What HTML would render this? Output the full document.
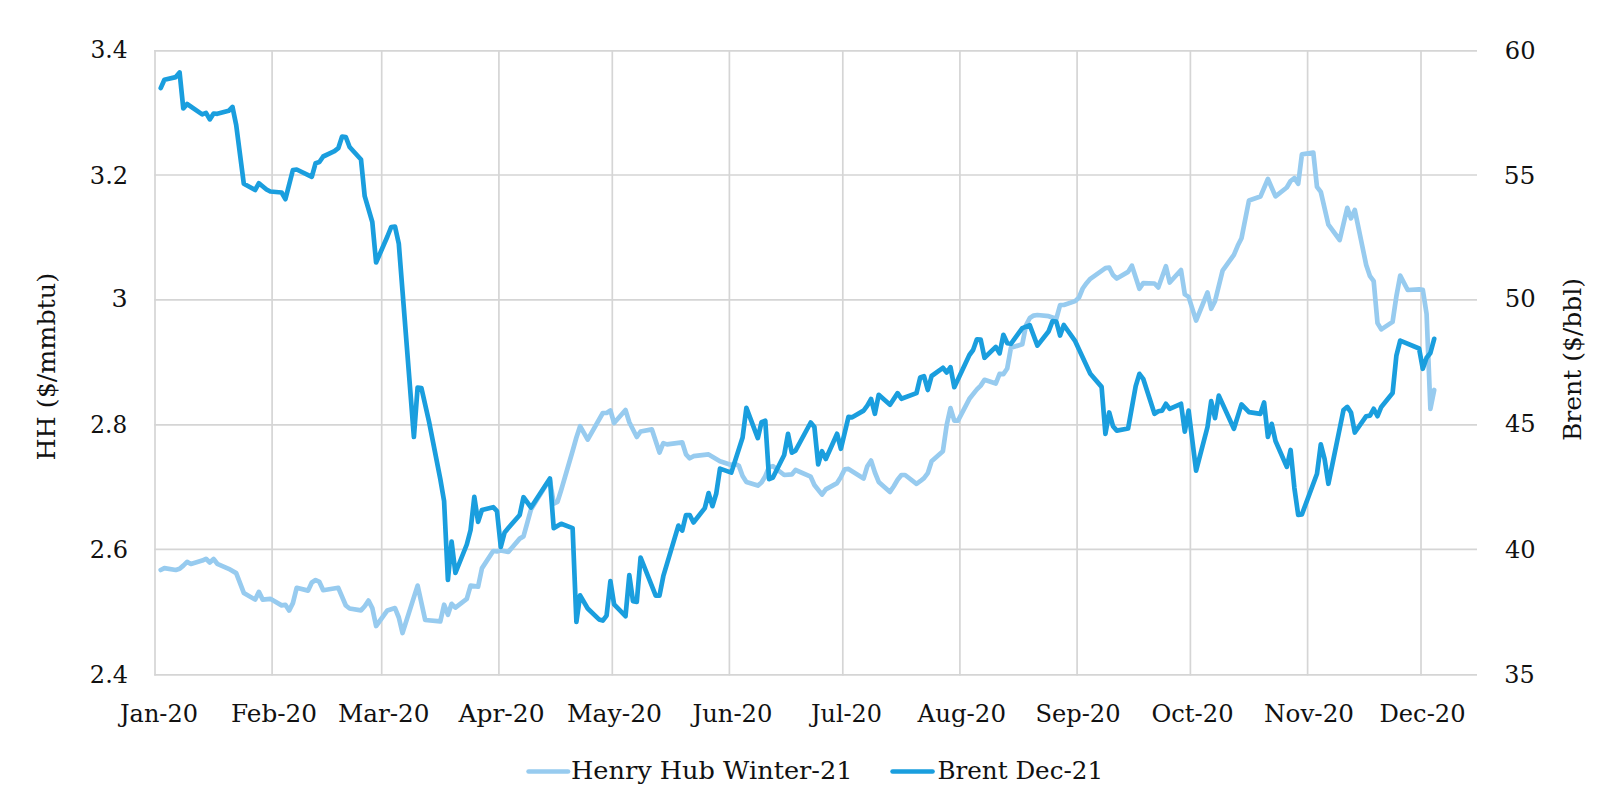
<!DOCTYPE html>
<html lang="en"><head><meta charset="utf-8"><title>Henry Hub Winter-21 vs Brent Dec-21</title>
<style>
html,body{margin:0;padding:0;background:#fff;}
body{width:1622px;height:808px;overflow:hidden;}
svg{display:block;}
text{font-family:"DejaVu Serif", "Liberation Serif", serif;font-size:24.6px;fill:#111;}
</style></head><body>
<svg width="1622" height="808" viewBox="0 0 1622 808">
<rect width="1622" height="808" fill="#ffffff"/>
<g stroke="#d5d5d5" stroke-width="1.7" fill="none" stroke-linecap="butt">
<line x1="154.2" y1="50.8" x2="1477" y2="50.8"/>
<line x1="154.2" y1="175.0" x2="1477" y2="175.0"/>
<line x1="154.2" y1="299.8" x2="1477" y2="299.8"/>
<line x1="154.2" y1="424.8" x2="1477" y2="424.8"/>
<line x1="154.2" y1="549.4" x2="1477" y2="549.4"/>
<line x1="154.2" y1="674.8" x2="1477" y2="674.8"/>
<line x1="155.0" y1="50" x2="155.0" y2="675.6"/>
<line x1="272.1" y1="50" x2="272.1" y2="675.6"/>
<line x1="381.7" y1="50" x2="381.7" y2="675.6"/>
<line x1="498.9" y1="50" x2="498.9" y2="675.6"/>
<line x1="612.3" y1="50" x2="612.3" y2="675.6"/>
<line x1="729.4" y1="50" x2="729.4" y2="675.6"/>
<line x1="842.8" y1="50" x2="842.8" y2="675.6"/>
<line x1="959.9" y1="50" x2="959.9" y2="675.6"/>
<line x1="1077.1" y1="50" x2="1077.1" y2="675.6"/>
<line x1="1190.4" y1="50" x2="1190.4" y2="675.6"/>
<line x1="1307.6" y1="50" x2="1307.6" y2="675.6"/>
<line x1="1421.0" y1="50" x2="1421.0" y2="675.6"/>
</g>
<polyline fill="none" stroke="#97cbef" stroke-width="4.7" stroke-linejoin="round" stroke-linecap="round" points="160.7,570.0 164.4,568.1 175.8,570.0 179.6,568.8 183.3,565.6 187.1,561.9 190.9,564.0 202.2,560.6 206.0,558.8 209.8,562.5 213.6,559.0 217.3,563.8 228.7,568.8 236.2,573.1 243.8,592.9 255.1,599.6 258.9,591.9 262.7,599.6 270.3,598.8 281.6,605.4 285.4,604.8 289.1,610.6 292.9,603.1 296.7,587.8 308.1,590.6 311.8,582.5 315.6,580.0 319.4,581.9 323.2,590.2 338.3,587.8 345.8,605.5 349.6,608.5 361.0,610.4 364.7,606.2 368.5,600.6 372.3,608.1 376.1,626.0 387.4,610.4 395.0,608.1 398.8,617.5 402.5,633.0 417.6,585.6 425.2,620.0 440.3,621.4 444.1,604.7 447.9,614.7 451.6,603.8 455.4,607.6 466.8,598.8 470.6,585.6 478.1,586.7 481.9,568.4 493.2,551.0 497.0,551.4 500.8,550.5 508.3,551.9 519.7,538.6 523.5,536.4 531.0,509.4 546.1,485.0 549.9,479.8 553.7,503.6 557.5,501.8 561.2,490.0 572.6,451.0 576.4,437.5 580.1,426.2 587.7,439.6 602.8,413.0 606.6,413.0 610.4,410.5 614.1,423.0 625.5,410.0 629.3,422.2 636.8,437.0 640.6,431.5 651.9,429.4 659.5,452.5 663.3,443.1 667.0,444.4 682.2,442.3 686.0,454.4 689.7,458.3 693.5,456.2 708.6,454.4 720.0,461.2 731.3,465.0 735.1,463.8 738.9,465.9 742.6,476.0 746.4,481.9 757.8,485.6 761.5,482.5 765.3,476.2 769.1,467.0 772.9,466.2 784.2,475.0 791.8,474.4 795.5,470.0 810.7,476.7 814.4,485.0 822.0,494.6 825.8,489.4 837.1,483.1 840.9,476.9 844.7,469.4 848.5,468.9 863.6,478.5 867.3,466.2 871.1,460.6 874.9,472.5 878.7,481.9 890.0,491.9 893.8,486.2 897.6,479.8 901.4,475.0 905.1,475.0 916.5,483.8 920.2,481.2 924.0,478.1 927.8,473.1 931.6,461.2 942.9,451.2 946.7,425.0 950.5,408.1 954.3,420.6 958.0,420.6 969.4,398.8 976.9,389.4 980.7,385.6 984.5,379.8 995.8,383.5 999.6,373.9 1003.4,374.1 1007.2,368.5 1010.9,347.8 1022.3,344.2 1026.1,325.0 1029.8,318.0 1033.6,315.6 1037.4,315.0 1048.7,316.2 1056.3,318.8 1060.1,305.0 1063.8,305.0 1075.2,301.1 1079.0,297.5 1082.7,288.5 1086.5,283.2 1090.3,278.8 1105.4,268.1 1109.2,267.5 1113.0,275.0 1116.8,278.5 1128.1,271.9 1131.9,265.6 1139.4,288.8 1143.2,283.1 1154.5,283.5 1158.3,287.5 1165.9,266.2 1169.7,282.5 1181.0,270.0 1184.8,294.4 1188.6,296.9 1196.1,320.6 1207.5,292.5 1211.2,308.8 1215.0,301.2 1222.6,270.6 1233.9,254.8 1237.7,245.8 1241.5,238.3 1249.0,200.4 1260.4,196.6 1267.9,179.0 1275.5,196.4 1286.8,187.5 1290.6,181.0 1294.4,178.1 1298.2,183.8 1301.9,154.4 1313.3,152.5 1317.0,186.9 1320.8,191.9 1328.4,224.7 1339.7,240.0 1347.3,207.8 1351.0,218.4 1354.8,210.0 1366.2,265.0 1370.0,276.2 1373.7,281.2 1377.5,323.1 1381.3,329.4 1392.6,321.9 1396.4,296.2 1400.2,275.6 1407.7,290.0 1419.1,289.4 1422.8,289.8 1426.6,314.0 1430.4,408.8 1434.2,390.0"/>
<polyline fill="none" stroke="#1a9ede" stroke-width="4.7" stroke-linejoin="round" stroke-linecap="round" points="160.7,88.1 164.4,79.8 175.8,77.1 179.6,72.4 183.3,108.5 187.1,104.0 202.2,114.4 206.0,112.9 209.8,119.4 213.6,113.5 217.3,113.8 228.7,110.8 232.5,107.0 236.2,125.0 243.8,183.8 255.1,190.0 258.9,183.2 266.5,189.5 270.3,191.5 281.6,192.5 285.4,199.2 292.9,170.0 296.7,169.5 311.8,176.8 315.6,163.2 319.4,162.0 323.2,156.5 334.5,151.2 338.3,148.2 342.1,136.5 345.8,137.0 349.6,147.0 361.0,159.5 364.7,196.2 372.3,222.0 376.1,262.5 387.4,236.5 391.2,227.0 395.0,226.6 398.8,243.8 402.5,291.0 413.9,437.0 417.6,387.5 421.4,388.0 429.0,421.5 440.3,479.0 444.1,501.2 447.9,580.0 451.6,541.6 455.4,573.0 466.8,544.5 470.6,530.0 474.3,496.9 478.1,521.9 481.9,510.0 493.2,507.2 497.0,511.2 500.8,547.0 504.6,532.5 508.3,528.1 519.7,515.0 523.5,497.2 531.0,507.5 549.9,478.5 553.7,528.1 561.2,523.8 572.6,528.1 576.4,621.9 580.1,595.3 587.7,608.5 599.0,619.4 602.8,620.6 606.6,615.6 610.4,581.2 614.1,604.4 625.5,616.2 629.3,575.2 633.0,601.2 636.8,601.9 640.6,557.5 655.7,595.6 659.5,595.6 663.3,576.2 678.4,525.6 682.2,530.6 686.0,515.0 689.7,515.0 693.5,522.5 704.8,508.1 708.6,493.1 712.4,506.2 716.2,493.8 720.0,468.6 731.3,472.6 742.6,437.5 746.4,407.9 757.8,438.1 761.5,422.3 765.3,420.8 769.1,479.2 772.9,477.5 784.2,455.0 788.0,433.8 791.8,452.6 795.5,450.6 810.7,422.5 814.4,426.9 818.2,464.4 822.0,451.2 825.8,459.0 837.1,433.8 840.9,448.8 848.5,416.9 852.2,417.3 863.6,410.6 867.3,405.6 871.1,399.0 874.9,413.8 878.7,394.8 890.0,404.8 897.6,393.1 901.4,398.8 916.5,393.1 920.2,377.5 924.0,376.2 927.8,390.0 931.6,376.0 942.9,367.8 946.7,372.5 950.5,367.2 954.3,387.2 969.4,355.0 973.1,350.0 976.9,339.3 980.7,339.7 984.5,357.8 995.8,346.9 999.6,353.4 1003.4,334.8 1007.2,343.1 1010.9,343.8 1022.3,328.1 1029.8,325.2 1037.4,345.6 1048.7,331.2 1052.5,321.2 1056.3,321.5 1060.1,335.6 1063.8,325.0 1075.2,341.2 1090.3,373.8 1101.6,386.9 1105.4,433.8 1109.2,412.5 1113.0,426.2 1116.8,430.6 1128.1,428.5 1135.7,386.2 1139.4,373.8 1143.2,378.8 1154.5,413.8 1158.3,411.2 1162.1,410.6 1165.9,403.8 1169.7,408.8 1181.0,403.8 1184.8,431.7 1188.6,410.6 1196.1,470.6 1207.5,427.0 1211.2,401.2 1215.0,418.1 1218.8,395.6 1233.9,428.8 1241.5,404.4 1249.0,412.2 1260.4,413.8 1264.1,402.5 1267.9,436.9 1271.7,423.8 1275.5,441.0 1286.8,466.9 1290.6,450.0 1294.4,488.1 1298.2,515.0 1301.9,514.4 1317.0,473.8 1320.8,444.4 1324.6,459.0 1328.4,483.8 1343.5,410.0 1347.3,406.9 1351.0,412.5 1354.8,432.5 1366.2,416.2 1370.0,415.6 1373.7,408.8 1377.5,416.2 1381.3,406.9 1392.6,393.1 1396.4,355.6 1400.2,340.6 1419.1,348.5 1422.8,368.8 1426.6,357.8 1430.4,353.0 1434.2,338.8"/>
<line x1="528.6" y1="771.5" x2="568" y2="771.5" stroke="#97cbef" stroke-width="4.7" stroke-linecap="round"/>
<line x1="892.6" y1="771.5" x2="932.5" y2="771.5" stroke="#1a9ede" stroke-width="4.7" stroke-linecap="round"/>
<text x="90.39" y="58.4" textLength="37.16" lengthAdjust="spacingAndGlyphs">3.4</text>
<text x="89.83" y="183.7" textLength="38.40" lengthAdjust="spacingAndGlyphs">3.2</text>
<text x="111.42" y="306.9" textLength="16.15" lengthAdjust="spacingAndGlyphs">3</text>
<text x="90.36" y="432.9" textLength="36.77" lengthAdjust="spacingAndGlyphs">2.8</text>
<text x="89.83" y="557.5" textLength="38.28" lengthAdjust="spacingAndGlyphs">2.6</text>
<text x="89.86" y="682.8" textLength="38.20" lengthAdjust="spacingAndGlyphs">2.4</text>
<text x="1504.87" y="58.7" textLength="30.76" lengthAdjust="spacingAndGlyphs">60</text>
<text x="1503.67" y="183.8" textLength="31.71" lengthAdjust="spacingAndGlyphs">55</text>
<text x="1504.78" y="307.4" textLength="30.95" lengthAdjust="spacingAndGlyphs">50</text>
<text x="1504.90" y="431.8" textLength="30.80" lengthAdjust="spacingAndGlyphs">45</text>
<text x="1504.95" y="557.5" textLength="30.71" lengthAdjust="spacingAndGlyphs">40</text>
<text x="1504.25" y="682.8" textLength="30.43" lengthAdjust="spacingAndGlyphs">35</text>
<text x="119.96" y="721.5" textLength="78.02" lengthAdjust="spacingAndGlyphs">Jan-20</text>
<text x="230.94" y="721.5" textLength="86.12" lengthAdjust="spacingAndGlyphs">Feb-20</text>
<text x="337.96" y="721.5" textLength="91.57" lengthAdjust="spacingAndGlyphs">Mar-20</text>
<text x="458.49" y="721.5" textLength="86.04" lengthAdjust="spacingAndGlyphs">Apr-20</text>
<text x="566.96" y="721.5" textLength="95.07" lengthAdjust="spacingAndGlyphs">May-20</text>
<text x="692.47" y="721.5" textLength="80.02" lengthAdjust="spacingAndGlyphs">Jun-20</text>
<text x="810.97" y="721.5" textLength="71.02" lengthAdjust="spacingAndGlyphs">Jul-20</text>
<text x="917.49" y="721.5" textLength="88.54" lengthAdjust="spacingAndGlyphs">Aug-20</text>
<text x="1035.42" y="721.5" textLength="85.16" lengthAdjust="spacingAndGlyphs">Sep-20</text>
<text x="1151.46" y="721.5" textLength="82.08" lengthAdjust="spacingAndGlyphs">Oct-20</text>
<text x="1263.97" y="721.5" textLength="90.08" lengthAdjust="spacingAndGlyphs">Nov-20</text>
<text x="1379.45" y="721.5" textLength="86.13" lengthAdjust="spacingAndGlyphs">Dec-20</text>
<text x="570.97" y="779.1" textLength="281.60" lengthAdjust="spacingAndGlyphs">Henry Hub Winter-21</text>
<text x="937.45" y="779.1" textLength="165.65" lengthAdjust="spacingAndGlyphs">Brent Dec-21</text>
<text transform="translate(55.4,460.52) rotate(-90)" textLength="187.56" lengthAdjust="spacingAndGlyphs">HH ($/mmbtu)</text>
<text transform="translate(1581.0,441.02) rotate(-90)" textLength="163.04" lengthAdjust="spacingAndGlyphs">Brent ($/bbl)</text>
</svg></body></html>
